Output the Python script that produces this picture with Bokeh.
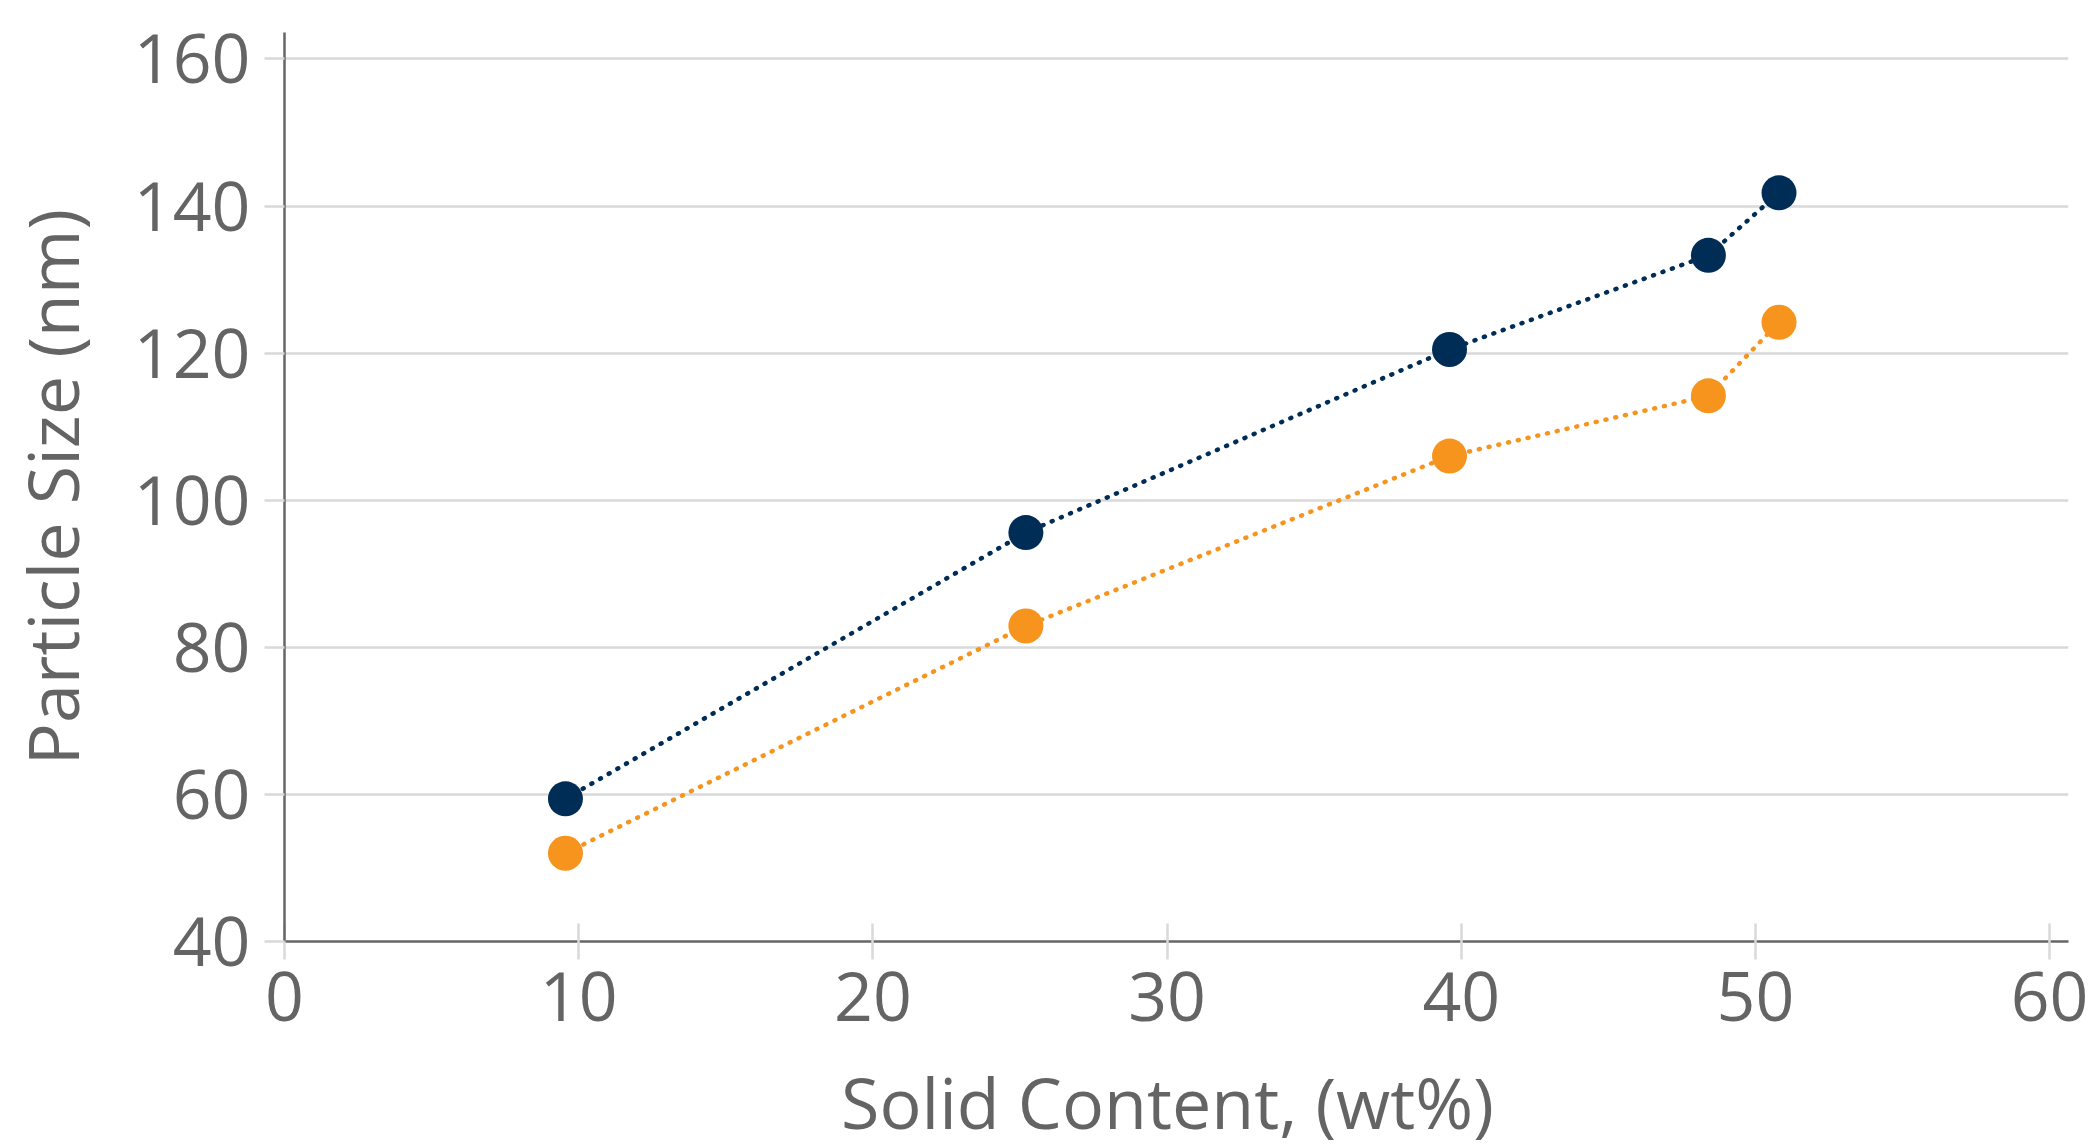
from bokeh.plotting import figure
from bokeh.models import Range1d, FixedTicker
from bokeh.embed import file_html
from bokeh.resources import INLINE

# Data
solid_content = [9.55, 25.2, 39.6, 48.4, 50.8]
size_navy = [59.4, 95.6, 120.5, 133.3, 141.8]
size_orange = [52.0, 82.9, 106.0, 114.2, 124.2]
x_ticks = [0, 10, 20, 30, 40, 50, 60]
y_ticks = [40, 60, 80, 100, 120, 140, 160]

NAVY = "#002D56"
ORANGE = "#F7941E"
TEXT = "#646464"
FONT = "Open Sans"

p = figure(
    frame_width=1784, frame_height=909,
    min_border_left=283, min_border_top=32, min_border_right=20, min_border_bottom=205,
    x_range=Range1d(0, 60.64), y_range=Range1d(40, 163.6),
    output_backend="svg", toolbar_location=None,
)
p.outline_line_color = None
p.background_fill_color = "white"

p.xgrid.grid_line_color = None
p.ygrid.grid_line_color = "#d9d9d9"
p.ygrid.grid_line_width = 2.5

p.xaxis.ticker = FixedTicker(ticks=x_ticks)
p.yaxis.ticker = FixedTicker(ticks=y_ticks)
p.xaxis.minor_tick_line_color = None
p.yaxis.minor_tick_line_color = None

for ax in (p.xaxis, p.yaxis):
    ax.axis_line_color = "#666666"
    ax.axis_line_width = 2.5
    ax.major_tick_line_color = "#d9d9d9"
    ax.major_tick_line_width = 2.5
    ax.major_label_text_font = FONT
    ax.major_label_text_font_size = "68px"
    ax.major_label_text_color = TEXT
    ax.axis_label_text_font = FONT
    ax.axis_label_text_font_size = "70px"
    ax.axis_label_text_font_style = "normal"
    ax.axis_label_text_color = TEXT

p.xaxis.major_tick_in = 18
p.xaxis.major_tick_out = 18
p.xaxis.major_label_standoff = 12
p.yaxis.major_tick_in = 0
p.yaxis.major_tick_out = 20
p.yaxis.major_label_standoff = 14

p.xaxis.axis_label = "Solid Content,  (wt%)"
p.yaxis.axis_label = "Particle Size (nm)"
p.xaxis.axis_label_standoff = 30
p.yaxis.axis_label_standoff = 31

p.line(solid_content, size_navy, line_color=NAVY, line_width=4.5,
       line_dash="1 9", line_cap="round")
p.line(solid_content, size_orange, line_color=ORANGE, line_width=4.5,
       line_dash="1 9", line_cap="round")
p.scatter(solid_content, size_navy, size=35, fill_color=NAVY, line_color=None)
p.scatter(solid_content, size_orange, size=35, fill_color=ORANGE, line_color=None)

open("out.html", "w").write(file_html(p, INLINE))
